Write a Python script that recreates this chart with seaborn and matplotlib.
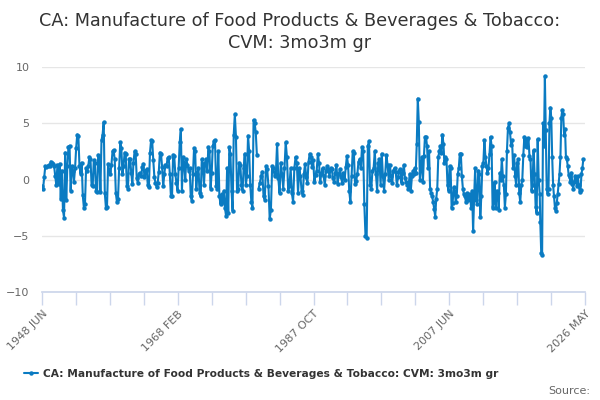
import numpy as np
import pandas as pd
import matplotlib
matplotlib.use('Agg')
import matplotlib.pyplot as plt
import seaborn as sns

# values, one list per stretch of the series
vals_1948_1979 = [
    -0.6, -0.8, 0.2, 1.2, 1.1, 1.2, 1.3, 1.2, 1.6, 1.5, 1.4, 1.2,
    0.3, -0.5, 1.3, -0.4, 1.4, -1.7, 0.8, -2.7, -3.4, 2.4,
    -1.8, 1.2, 2.9, 3.0, -1.0, 1.2, 0.8, -0.2, 1.0,
    2.8, 4.0, 3.9, 1.2, 0.5, 1.5, -1.4, -2.5, -2.2,
    1.0, 0.8, 1.2, 2.0, 1.8, -0.5, -0.6, 1.7, 1.5, -1.0, -1.1,
    2.2, 2.1, -1.1, 3.5, 4.0, 5.1, -1.2, -2.5, -2.4, 1.4,
    0.8, 0.5, 1.3, 2.5, 2.6, 1.8, -1.2, -2.0, -1.7, 1.0,
    3.3, 2.8, 0.5, 1.2, 2.4, 2.3, -0.6, -0.8, 1.8,
    1.8, 0.6, -0.4, 1.5, 2.5, 2.3, 0.1, -0.3,
    0.5, 0.6, 0.3, 1.1, 1.4, 0.2, 0.8, 0.9, -0.5, -0.7,
    2.4, 3.5, 3.4, 1.7, 0.2, -0.3, -0.7, -0.3,
    0.7, 2.4, 2.3, 1.1, -0.6, 0.5, 1.3, 1.2,
    1.9, 2.0, 0.5, -1.5, -1.5, 2.2, 2.1, 0.5,
    -0.3, -1.0, 1.0, 3.3, 4.5, -1.0, 2.0, 1.5, 0.0,
    1.8, 1.3, 0.8, 1.0, -1.5, -1.9, 0.5, 2.8,
    2.5, -0.8, 0.5, 1.0, -1.2, -1.5, 1.8, 1.4,
    -0.5, 1.5, 1.8, 0.8, 2.9, 2.5, -0.8, 0.6,
    3.0, 3.4, 3.5, -0.6, -0.8, 2.5,
    -1.5, -2.2, -1.3, -2.0, -1.0, -2.5, -3.2, 1.0, -3.0,
    2.9, 2.3, -1.0, -2.8, 4.0, 5.8, 3.8, -1.0,
    -0.8, 1.5, 1.3, -0.5, -1.0, 1.0, 2.3, -0.5, 0.3,
    3.9, 2.5, -0.5, -2.0, -2.5, 5.3, 5.0, 4.2, 2.2,
]
vals_1979_1985 = [
    -0.8, -0.3, 0.3, 0.7, -1.5, -1.8, 1.2, 0.9, -0.6, -3.5, -2.7, 1.2,
    1.0, 0.3, 0.5, 3.2, 0.1, -1.2, 1.5, 0.5, -0.8, 1.0, 3.3, 2.0,
    -1.0, -0.6, 1.0, -1.2, -2.0, 1.0, 2.0, 1.5, -1.2, 1.0,
]
vals_1985_2001 = [
    0.3, -1.0, -1.4, 0.5, 1.4, 0.2, -0.3, 1.6, 2.3, 2.0,
    1.1, 1.7, -0.2, 0.4, 0.8, 2.3, 1.5, -0.2, 0.5,
    1.0, 0.3, -0.5, 0.8, 1.2, 0.9, 0.3, 1.0,
    0.9, 0.1, -0.2, 0.6, 1.3, -0.4, 0.5, 0.9, 0.2,
    -0.3, 0.6, 0.0, 1.1, 2.1, 1.3, -1.0, -2.0,
    0.3, 2.5, 2.4, -0.4, -0.1, 0.5, 1.6, 1.8, 1.0, 2.9, 2.5,
    -2.2, -5.0, -5.2, 3.0, 3.4, -0.5, -0.8, 0.8, 1.0, 2.5,
    0.5, -1.0, 1.5, 1.8, -0.5, 2.3, 0.3, -1.0, 0.5,
    2.2, 1.3, 0.0, 1.3, 0.3, -0.3, 0.8, 1.0,
    0.7, -0.5, 0.2, 0.8, 0.9, -0.3, 0.6, 1.3,
    0.1, -0.2, -0.5, -0.8, 0.5, -1.0, 0.3, 0.8,
]
vals_2001_2019 = [
    0.5, 1.0, 0.6, 3.2, 7.2, 5.1, 0.0, 1.0,
    2.0, -0.2, 2.1, 3.8, 3.8, 3.0, 1.0, 2.5,
    -0.8, -1.2, -1.5, -2.0, -2.6, -3.3, -1.7, -0.8, 2.0,
    2.5, 3.0, 2.4, 4.0, 3.2, 1.5, 2.0, 1.8, -0.5, -1.0,
    1.2, 1.0, -2.5, -2.1, -0.7, -1.0, -2.0, -1.5, 0.5, 1.0,
    2.3, 2.3, 0.3, -0.8, -1.3, -1.5, -2.0, -1.2, -1.8, -1.5,
    -1.3, -2.5, -1.0, -4.6, -1.5, 1.0, -1.8, -2.2, 0.8, 0.5,
    -3.3, -1.5, 1.2, 1.5, 3.5, 2.0, 1.2, 0.6, 1.0,
    2.3, 3.8, 3.0, -2.5, -2.0, -0.2, -2.5, -1.0, -1.2, -2.7,
    0.6, 0.0, 1.8, 0.3, -0.5, -2.5, -1.3, 2.5, 4.6, 5.0,
    4.2, 3.1, 3.5, 1.0, 2.2, 0.3, -0.5, 1.5, 1.8, -1.2,
    -2.0, -0.5, 0.0, 2.2, 3.8, 3.0, 3.6, 2.9, 3.7, 2.1,
    1.8, -1.0, -0.5, 2.6, 0.5, -2.4, -3.0, 3.6, 0.0, -1.3,
]
vals_2019_2026 = [
    -3.8, -6.5, -6.7, 5.0, 3.0, 9.2, 4.4, -0.8, -1.3, -0.8,
    5.0, 6.4, 5.5, 2.0, -0.5, -1.5, -2.5, -2.8, -2.1,
    -1.3, -0.4, 0.5, 2.0, 5.5, 6.2, 5.8, 4.0, 4.5, 2.0,
    1.8, 1.2, 0.4, 0.2, -0.2, 0.6, -0.4, -0.8, -0.2, 0.3,
    0.2, -0.6, 0.3, -0.5, -1.1, -0.9, 0.5, 1.0, 1.8,
]

# (first month, last month, values, line piece) - a break in the series after 1979
stretches = [
    ('1948-06-01', '1979-04-01', vals_1948_1979, 0),
    ('1979-07-01', '1985-05-01', vals_1979_1985, 1),
    ('1985-07-01', '2001-09-01', vals_1985_2001, 1),
    ('2001-10-01', '2019-11-01', vals_2001_2019, 1),
    ('2019-12-01', '2026-02-01', vals_2019_2026, 1),
]
frames = []
for start, end, vals, piece in stretches:
    frames.append(pd.DataFrame({
        'date': pd.date_range(start, end, periods=len(vals)),
        'value': vals,
        'piece': piece,
    }))
df = pd.concat(frames, ignore_index=True)

tick_labels = ['1948 JUN', '1968 FEB', '1987 OCT', '2007 JUN', '2026 MAY']
x_start = pd.Timestamp('1948-06-01')
x_end = pd.Timestamp('2026-05-01')
series_name = 'CA: Manufacture of Food Products & Beverages & Tobacco: CVM: 3mo3m gr'

sns.set_theme(style='white')
plt.rcParams['font.family'] = ['DejaVu Sans']

blue = '#0a7bc2'
fig = plt.figure(figsize=(6, 4), dpi=100)
ax = fig.add_axes([0.07, 0.27, 0.905, 0.5625])

for piece, g in df.groupby('piece'):
    kw = {'label': series_name} if piece == 0 else {}
    sns.lineplot(data=g, x='date', y='value', ax=ax, color=blue, lw=1.5,
                 marker='o', markersize=3.2, markeredgewidth=0, legend=False, **kw)

ax.set_xlim(x_start, x_end)
ax.set_ylim(-10, 10)
ax.set_yticks([-10, -5, 0, 5, 10])
ax.yaxis.grid(True, color='#e6e6e6', lw=1)
ax.xaxis.grid(False)

ticks = pd.to_datetime(np.linspace(x_start.value, x_end.value, 17))
ax.set_xticks(ticks)
labels = [''] * 17
for i, lab in enumerate(tick_labels):
    labels[i * 4] = lab
ax.set_xticklabels(labels, rotation=45, ha='right', rotation_mode='anchor')

ax.tick_params(axis='x', direction='out', length=9, width=1, color='#ccd6eb',
               labelcolor='#666666', labelsize=8, pad=3, bottom=True)
ax.tick_params(axis='y', length=0, labelcolor='#666666', labelsize=8, pad=9)
for side in ['top', 'right', 'left']:
    ax.spines[side].set_visible(False)
ax.spines['bottom'].set_color('#ccd6eb')
ax.set_xlabel('')
ax.set_ylabel('')

fig.text(0.5, 0.948, 'CA: Manufacture of Food Products & Beverages & Tobacco:',
         ha='center', va='center', fontsize=12.7, color='#333333')
fig.text(0.5, 0.893, 'CVM: 3mo3m gr', ha='center', va='center', fontsize=12.7, color='#333333')

handles, labs = ax.get_legend_handles_labels()
if ax.get_legend() is not None:
    ax.get_legend().remove()
fig.legend(handles[:1], labs[:1], loc='center', bbox_to_anchor=(0.435, 0.066),
           frameon=False, handlelength=1.3, handletextpad=0.5,
           prop={'weight': 'bold', 'size': 7.7}, labelcolor='#333333')
fig.text(0.983, 0.022, 'Source:', ha='right', va='center', fontsize=8, color='#666666')

fig.savefig('out.png', dpi=100)
